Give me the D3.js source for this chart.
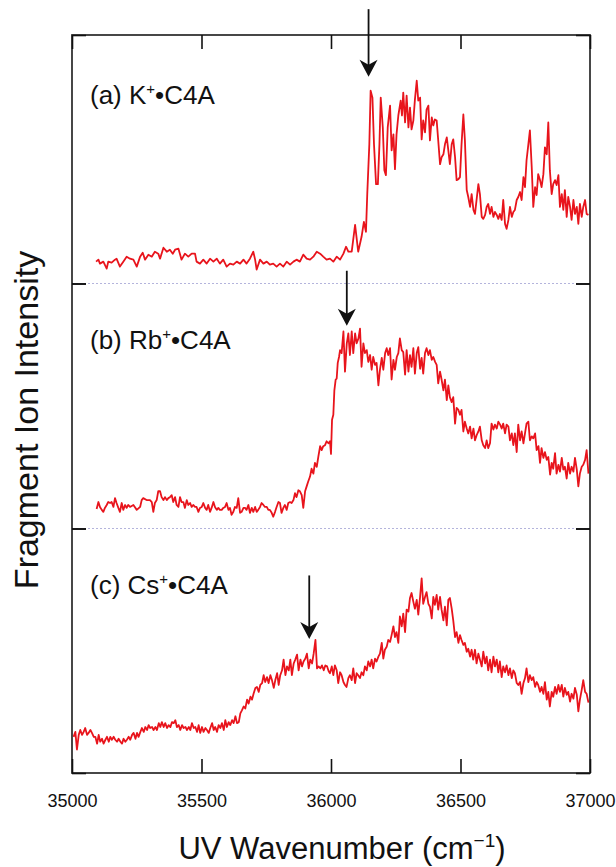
<!DOCTYPE html>
<html>
<head>
<meta charset="utf-8">
<script src="https://cdn.jsdelivr.net/npm/d3@7"></script>
<style>
  body { margin: 0; background: #fff; }
  text { font-family: "Liberation Sans", Arial, Helvetica, sans-serif; fill: #111; }
</style>
</head>
<body>
<svg id="chart" width="616" height="867"></svg>
<script>
// ---- data ----
var wnTicks = [35000, 35500, 36000, 36500, 37000];
var panelLetters = ["a", "b", "c"];
var panelIons = ["K", "Rb", "Cs"];

// [wavenumber (cm-1), fragment ion intensity (arb.)]
var spectrumK = [[35093,22],[35102,24],[35108,20],[35121,22],[35134,15],[35140,22],[35153,21],[35166,24],[35172,25],[35185,17],[35198,22],[35211,27],[35224,25],[35237,24],[35250,17],[35263,27],[35273,31],[35282,24],[35295,29],[35308,27],[35320,32],[35333,30],[35340,25],[35353,36],[35366,32],[35378,34],[35389,30],[35398,34],[35411,35],[35423,24],[35436,30],[35449,27],[35462,30],[35475,30],[35481,22],[35494,20],[35507,24],[35520,20],[35533,25],[35546,22],[35559,25],[35571,20],[35584,24],[35597,17],[35610,20],[35623,19],[35636,22],[35649,20],[35662,24],[35674,20],[35687,25],[35700,32],[35707,24],[35713,14],[35726,24],[35739,20],[35752,22],[35764,19],[35777,20],[35790,17],[35803,20],[35816,17],[35829,22],[35842,19],[35855,22],[35867,24],[35880,22],[35893,29],[35906,25],[35919,24],[35932,27],[35945,32],[35958,30],[35970,27],[35983,24],[35996,25],[36009,22],[36022,27],[36035,24],
  [36048,30],[36058,37],[36067,32],[36080,32],[36093,59],[36105,32],[36118,47],[36127,62],[36135,52],[36140,90],[36148,140],[36153,194],[36160,187],[36166,140],[36174,100],[36181,100],[36187,140],[36192,187],[36200,157],[36206,114],[36212,109],[36219,157],[36228,179],[36234,134],[36241,150],[36247,115],[36253,150],[36260,169],[36269,184],[36274,169],[36279,192],[36286,162],[36292,189],[36299,157],[36305,177],[36311,155],[36318,164],[36324,185],[36331,204],[36337,184],[36344,187],[36350,145],[36356,164],[36363,152],[36369,175],[36376,179],[36382,144],[36389,167],[36395,159],[36401,165],[36408,164],[36414,144],[36421,120],[36427,127],[36434,130],[36440,140],[36447,147],[36453,134],[36459,120],[36466,140],[36472,145],[36479,127],[36485,104],[36492,105],[36498,107],[36504,140],[36511,170],[36517,144],[36524,94],[36530,87],[36537,77],[36543,90],[36550,74],[36556,70],[36562,84],[36569,100],[36575,90],[36582,67],[36588,65],[36595,69],[36601,77],[36607,80],[36614,70],[36620,77],[36627,67],[36633,72],[36640,69],[36646,65],[36652,70],[36659,64],[36665,84],[36672,60],[36678,55],[36685,64],[36691,77],[36698,67],[36704,72],[36710,74],[36717,84],[36723,87],[36730,92],[36736,84],[36743,107],[36749,97],[36755,124],[36762,140],[36768,154],[36775,117],[36781,77],[36788,97],[36794,89],[36800,110],[36807,104],[36813,97],[36820,110],[36826,137],[36833,130],[36839,162],[36845,114],[36852,90],[36858,100],[36865,104],[36871,99],[36878,109],[36884,77],[36891,90],[36897,74],[36903,94],[36910,67],[36916,87],[36923,77],[36929,64],[36936,84],[36942,70],[36949,77],[36955,60],[36961,80],[36968,67],[36974,77],[36981,84],[36987,70],[36994,69]];

var spectrumRb = [[35095,20],[35102,27],[35108,22],[35115,19],[35121,17],[35127,21],[35134,24],[35140,27],[35147,26],[35153,27],[35160,22],[35166,31],[35172,26],[35179,21],[35185,17],[35192,26],[35198,19],[35205,24],[35211,21],[35217,24],[35224,22],[35237,24],[35250,19],[35263,22],[35269,29],[35275,31],[35288,29],[35301,29],[35308,27],[35314,17],[35320,26],[35327,29],[35333,38],[35340,38],[35346,32],[35353,29],[35359,32],[35366,29],[35372,31],[35378,32],[35385,34],[35391,27],[35398,32],[35404,24],[35411,22],[35417,32],[35423,27],[35430,27],[35436,21],[35443,29],[35449,24],[35456,26],[35462,22],[35468,24],[35475,22],[35481,22],[35488,17],[35494,21],[35501,22],[35507,26],[35514,21],[35520,19],[35526,24],[35533,17],[35539,21],[35546,27],[35552,22],[35559,19],[35565,21],[35571,19],[35578,19],[35584,21],[35591,22],[35597,26],[35604,19],[35610,21],[35616,14],[35623,17],[35629,22],[35636,21],[35642,31],[35649,16],[35655,17],[35662,21],[35668,21],[35674,19],[35681,24],[35687,16],[35694,21],[35700,17],[35707,22],[35713,17],[35719,19],[35726,22],[35732,26],[35739,24],[35745,22],[35752,22],[35758,19],[35764,19],[35771,16],[35777,12],[35784,17],[35790,22],[35797,27],[35803,26],[35809,16],[35816,21],[35822,24],[35829,19],[35835,26],[35842,27],[35848,26],[35855,29],[35861,36],[35867,32],[35874,39],
  [35880,38],[35887,34],[35893,21],[35900,38],[35906,43],[35912,48],[35919,53],[35925,61],[35932,56],[35938,67],[35945,63],[35951,73],[35958,84],[35964,80],[35970,84],[35977,85],[35983,89],[35990,87],[35996,89],[36000,76],[36004,111],[36009,116],[36013,141],[36018,152],[36022,153],[36026,169],[36031,175],[36035,182],[36041,179],[36048,201],[36054,160],[36061,189],[36067,199],[36073,177],[36080,201],[36086,179],[36093,199],[36099,189],[36106,194],[36112,204],[36118,165],[36125,189],[36131,179],[36138,182],[36144,170],[36151,177],[36157,162],[36163,175],[36170,167],[36176,169],[36183,146],[36189,162],[36196,174],[36202,162],[36209,179],[36215,184],[36221,177],[36228,184],[36234,152],[36241,172],[36247,162],[36254,175],[36260,179],[36266,194],[36273,182],[36279,180],[36286,157],[36292,182],[36299,160],[36305,177],[36311,165],[36318,184],[36324,158],[36331,179],[36337,185],[36344,163],[36350,174],[36356,158],[36363,179],[36369,184],[36376,177],[36382,182],[36389,172],[36395,175],[36402,170],[36408,167],[36414,148],[36421,160],[36427,152],[36434,141],[36440,152],[36447,131],[36453,146],[36459,134],[36466,129],[36472,134],[36479,107],[36485,123],[36492,121],[36498,116],[36504,121],[36511,99],[36517,109],[36524,102],[36530,97],[36537,104],[36543,92],[36550,102],[36556,90],[36562,95],[36569,99],[36575,104],[36582,90],[36588,85],[36595,82],[36601,90],[36607,82],[36614,87],[36620,107],[36627,101],[36633,106],[36640,102],[36646,109],[36653,106],[36659,102],[36665,107],[36672,97],[36678,106],[36685,104],[36691,90],[36698,97],[36704,85],[36710,97],[36717,78],[36723,106],[36730,90],[36736,99],[36743,87],[36749,97],[36755,107],[36762,109],[36768,90],[36775,94],[36781,92],[36788,97],[36794,80],[36801,84],[36807,67],[36813,82],[36820,72],[36826,78],[36833,70],[36839,73],[36846,55],[36852,67],[36858,61],[36865,77],[36871,56],[36878,65],[36884,58],[36891,72],[36897,60],[36903,63],[36910,51],[36916,67],[36923,56],[36929,63],[36936,58],[36942,72],[36949,60],[36955,43],[36961,56],[36968,63],[36974,65],[36981,70],[36987,80],[36994,56]];

var spectrumCs = [[35006,37],[35013,42],[35019,24],[35026,39],[35032,44],[35039,39],[35045,42],[35051,46],[35058,39],[35064,41],[35071,44],[35077,41],[35084,37],[35090,37],[35097,30],[35103,39],[35109,32],[35116,35],[35122,30],[35129,34],[35135,37],[35142,32],[35148,37],[35154,34],[35161,37],[35167,34],[35174,32],[35180,35],[35187,32],[35193,30],[35199,35],[35206,32],[35212,34],[35219,37],[35225,34],[35232,39],[35238,41],[35245,35],[35251,41],[35257,37],[35264,42],[35270,46],[35277,42],[35283,47],[35290,44],[35296,49],[35302,46],[35309,47],[35315,44],[35322,47],[35328,44],[35335,51],[35341,47],[35347,52],[35354,47],[35360,51],[35367,46],[35373,49],[35380,47],[35386,52],[35393,51],[35399,54],[35405,47],[35412,49],[35418,44],[35425,49],[35431,46],[35438,47],[35444,44],[35451,47],[35457,44],[35463,51],[35470,46],[35476,47],[35483,42],[35489,49],[35495,41],[35502,47],[35508,42],[35515,46],[35521,44],[35528,41],[35534,46],[35541,51],[35547,44],[35553,47],[35560,42],[35566,49],[35573,46],[35579,51],[35586,44],[35592,54],[35598,47],[35605,52],[35611,49],[35618,54],[35624,51],[35631,58],[35637,51],[35644,52],[35650,61],[35656,64],[35663,68],[35669,66],[35676,75],[35682,71],[35689,78],[35695,75],[35701,81],[35708,87],[35714,88],[35721,83],[35727,90],[35734,92],[35740,100],[35746,93],[35753,98],[35759,92],[35766,100],[35772,95],[35779,87],[35785,95],[35792,102],[35798,90],[35804,100],[35811,105],[35817,116],[35824,100],[35830,109],[35837,105],[35843,116],[35849,100],[35856,112],[35862,116],[35869,121],[35875,105],[35882,116],[35888,109],[35894,114],[35901,117],[35907,122],[35914,107],[35920,116],[35927,112],[35933,122],[35940,136],[35946,107],[35952,109],[35959,107],[35965,110],[35972,105],[35978,110],[35985,109],[35991,104],
  [35996,102],[36003,109],[36009,100],[36015,110],[36022,105],[36028,92],[36035,103],[36041,100],[36048,93],[36054,90],[36060,88],[36067,97],[36073,100],[36080,95],[36086,107],[36093,92],[36099,102],[36105,100],[36112,97],[36118,103],[36125,100],[36131,109],[36138,105],[36144,114],[36151,109],[36157,116],[36163,107],[36170,117],[36176,114],[36183,119],[36189,122],[36196,133],[36202,117],[36208,126],[36215,129],[36221,136],[36228,134],[36234,141],[36241,150],[36247,139],[36253,144],[36260,133],[36266,160],[36273,150],[36279,163],[36286,144],[36292,167],[36299,165],[36305,179],[36311,184],[36318,175],[36324,168],[36331,177],[36337,162],[36344,180],[36350,199],[36356,173],[36363,180],[36369,185],[36376,173],[36382,170],[36389,158],[36395,180],[36401,172],[36408,182],[36414,167],[36421,180],[36427,167],[36434,156],[36440,170],[36447,151],[36453,177],[36459,179],[36466,168],[36472,156],[36479,139],[36485,144],[36492,133],[36498,141],[36504,136],[36511,131],[36517,133],[36524,124],[36530,127],[36537,119],[36543,126],[36549,116],[36556,126],[36562,112],[36569,122],[36575,116],[36582,109],[36588,124],[36595,112],[36601,119],[36607,105],[36614,116],[36620,103],[36627,119],[36633,109],[36640,116],[36646,103],[36652,114],[36659,98],[36665,109],[36672,103],[36678,110],[36685,100],[36691,107],[36698,97],[36704,105],[36710,102],[36717,92],[36723,90],[36730,93],[36736,81],[36743,92],[36749,97],[36755,107],[36762,93],[36768,100],[36775,95],[36781,98],[36788,88],[36794,93],[36800,90],[36807,83],[36813,88],[36820,81],[36826,93],[36833,75],[36839,83],[36845,68],[36852,83],[36858,78],[36865,88],[36871,81],[36878,90],[36884,83],[36891,90],[36897,78],[36903,87],[36910,80],[36916,83],[36923,73],[36929,81],[36936,76],[36942,87],[36949,80],[36955,63],[36961,75],[36968,85],[36974,95],[36981,83],[36987,81],[36994,72]];

// arrows marking the band origins: wavenumber, tail and tip intensity
var arrowWn = [36145, 36061, 35916];
var arrowTail = [276, 263, 202];
var arrowTip = [208, 207, 137];

var spectra = [spectrumK, spectrumRb, spectrumCs];

// ---- layout ----
var svg = d3.select("#chart");
var plotL = 72, plotR = 590, plotT = 35, plotB = 773;
var bounds = [35, 283.5, 528.5, 773]; // panel separators
var tickLen = 14;

var x = d3.scaleLinear().domain([35000, 37000]).range([plotL, plotR]);

var ys = panelLetters.map(function (d, i) {
  return d3.scaleLinear().domain([0, 250]).range([bounds[i + 1], bounds[i]]);
});

// dashed separators between panels
svg.selectAll(".sep")
  .data([bounds[1], bounds[2]])
  .enter().append("line")
  .attr("x1", plotL).attr("x2", plotR)
  .attr("y1", function (d) { return d; })
  .attr("y2", function (d) { return d; })
  .attr("stroke", "#b4b4dc")
  .attr("stroke-width", 1)
  .attr("stroke-dasharray", "2,2");

// spectra
var line = d3.line()
  .x(function (d) { return x(d[0]); });

spectra.forEach(function (s, i) {
  svg.append("path")
    .datum(s)
    .attr("d", line.y(function (d) { return ys[i](d[1]); }))
    .attr("fill", "none")
    .attr("stroke", "#e8141c")
    .attr("stroke-width", 1.8)
    .attr("stroke-linejoin", "round");
});

// frame
svg.append("rect")
  .attr("x", plotL).attr("y", plotT)
  .attr("width", plotR - plotL).attr("height", plotB - plotT)
  .attr("fill", "none")
  .attr("stroke", "#333")
  .attr("stroke-width", 1.8);

function styleAxis(g) {
  g.select(".domain").remove();
  g.selectAll(".tick line").attr("stroke", "#111").attr("stroke-width", 1.6);
}

// x axes (ticks inward on top and bottom)
svg.append("g")
  .attr("transform", "translate(0," + plotT + ")")
  .call(d3.axisBottom(x).tickValues(wnTicks).tickSize(tickLen).tickFormat(""))
  .call(styleAxis);

svg.append("g")
  .attr("transform", "translate(0," + plotB + ")")
  .call(d3.axisBottom(x).tickValues(wnTicks).tickSize(-tickLen).tickPadding(21).tickFormat(d3.format("d")))
  .call(styleAxis)
  .call(function (g) {
    g.selectAll("text").attr("font-size", 18).attr("fill", "#111")
      .attr("font-family", "Liberation Sans, Arial, sans-serif");
  });

// y ticks at panel boundaries, both sides
ys.forEach(function (y) {
  svg.append("g")
    .attr("transform", "translate(" + plotL + ",0)")
    .call(d3.axisRight(y).tickValues([0, 250]).tickSize(tickLen).tickFormat(""))
    .call(styleAxis);
  svg.append("g")
    .attr("transform", "translate(" + plotR + ",0)")
    .call(d3.axisLeft(y).tickValues([0, 250]).tickSize(tickLen).tickFormat(""))
    .call(styleAxis);
});

// panel labels
panelLetters.forEach(function (l, i) {
  var t = svg.append("text")
    .attr("x", 90)
    .attr("y", bounds[i] + (i === 0 ? 69 : 65))
    .attr("font-size", 26);
  t.append("tspan").text("(" + l + ") " + panelIons[i]);
  t.append("tspan").text("+").attr("font-size", 15).attr("dy", -10);
  t.append("tspan").text("\u2022C4A").attr("dy", 10);
});

// arrows
arrowWn.forEach(function (w, i) {
  var ax = x(w);
  var yTail = ys[i](arrowTail[i]);
  var yTip = ys[i](arrowTip[i]);
  svg.append("line")
    .attr("x1", ax).attr("x2", ax)
    .attr("y1", yTail).attr("y2", yTip - 10)
    .attr("stroke", "#111").attr("stroke-width", 1.8);
  svg.append("path")
    .attr("d", "M" + ax + "," + yTip +
      " L" + (ax - 9) + "," + (yTip - 17) +
      " L" + ax + "," + (yTip - 12) +
      " L" + (ax + 9) + "," + (yTip - 17) + " Z")
    .attr("fill", "#111");
});

// axis titles
var xt = svg.append("text")
  .attr("x", 342).attr("y", 859)
  .attr("text-anchor", "middle")
  .attr("font-size", 31);
xt.append("tspan").text("UV Wavenumber (cm");
xt.append("tspan").text("\u22121").attr("font-size", 19).attr("dy", -12);
xt.append("tspan").text(")").attr("dy", 12);

svg.append("text")
  .attr("transform", "translate(38,420) rotate(-90)")
  .attr("text-anchor", "middle")
  .attr("font-size", 34)
  .text("Fragment Ion Intensity");
</script>
</body>
</html>
